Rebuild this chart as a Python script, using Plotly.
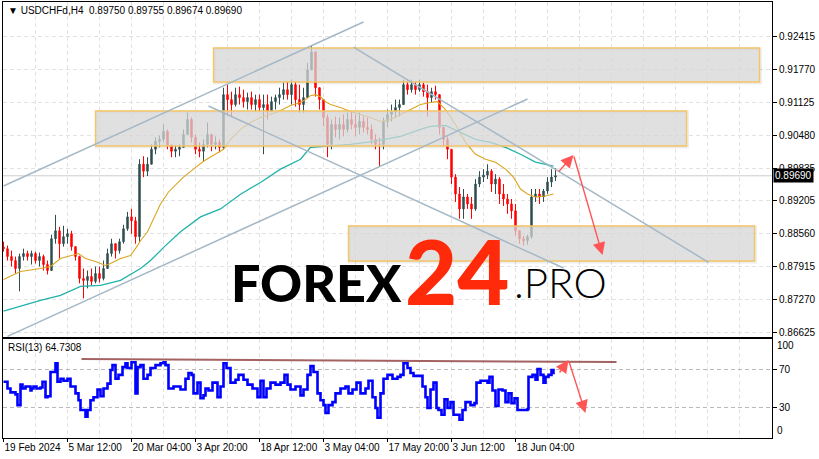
import plotly.graph_objects as go

# ---------------- data ----------------
title_text = "USDCHFd,H4  0.89750 0.89755 0.89674 0.89690"
last_price = 0.89690
rsi_label = "RSI(13) 64.7308"

date_ticks = [0, 64, 128, 192, 256, 320, 384, 448, 512]
date_labels = ["19 Feb 2024", "5 Mar 12:00", "20 Mar 04:00", "3 Apr 20:00",
               "18 Apr 12:00", "3 May 04:00", "17 May 20:00", "3 Jun 12:00",
               "18 Jun 04:00"]
grid_ticks = [32, 96, 160, 224, 288, 352, 416, 480, 544, 576, 608, 640, 672, 704, 736, 768]
price_ticks = [0.92415, 0.91770, 0.91125, 0.90480, 0.89835, 0.89205,
               0.88560, 0.87915, 0.87270, 0.86625]

first_open = 0.88300
high = [0.88405, 0.88328, 0.88231, 0.88115, 0.88173, 0.88269, 0.88231, 0.88231, 0.88211, 0.88192,
        0.88153, 0.88037, 0.88541, 0.88928, 0.88696, 0.88715, 0.88657, 0.88618, 0.88308, 0.88134,
        0.87882, 0.87843, 0.87882, 0.87921, 0.87921, 0.88037, 0.88269, 0.88463, 0.88366, 0.88463,
        0.88734, 0.88986, 0.89044, 0.88889, 0.90013, 0.90071, 0.90052, 0.90303, 0.90439, 0.90478,
        0.90691, 0.90594, 0.90303, 0.90284, 0.90303, 0.90594, 0.90923, 0.90826, 0.90497, 0.90342,
        0.90400, 0.90729, 0.90497, 0.90458, 0.90400, 0.91407, 0.91466, 0.91330, 0.91407, 0.91427,
        0.91369, 0.91311, 0.91330, 0.91272, 0.91272, 0.91272, 0.91272, 0.91233, 0.91272, 0.91407,
        0.91504, 0.91524, 0.91562, 0.91524, 0.91466, 0.91407, 0.91892, 0.92221, 0.92047, 0.91407,
        0.91175, 0.90884, 0.90788, 0.90846, 0.90826, 0.90884, 0.90923, 0.90943, 0.90884, 0.90923,
        0.90846, 0.90826, 0.90691, 0.90497, 0.90439, 0.90826, 0.90981, 0.91078, 0.91175, 0.91175,
        0.91562, 0.91562, 0.91562, 0.91524, 0.91562, 0.91504, 0.91466, 0.91407, 0.91446, 0.91175,
        0.90652, 0.90458, 0.90206, 0.89722, 0.89470, 0.89432, 0.89335, 0.89277, 0.89625, 0.89780,
        0.89819, 0.89916, 0.89819, 0.89722, 0.89664, 0.89529, 0.89335, 0.89238, 0.89141, 0.88541,
        0.88521, 0.88541, 0.89432, 0.89432, 0.89432, 0.89432, 0.89664, 0.89819, 0.89838]
low = [0.88211, 0.88037, 0.87921, 0.87785, 0.87437, 0.88037, 0.88037, 0.87960, 0.87979, 0.87921,
       0.87843, 0.87766, 0.87843, 0.88366, 0.88076, 0.88308, 0.88366, 0.88231, 0.88037, 0.87592,
       0.87301, 0.87495, 0.87553, 0.87592, 0.87611, 0.87650, 0.87882, 0.88115, 0.88076, 0.88173,
       0.88366, 0.88618, 0.88560, 0.88366, 0.88405, 0.89664, 0.89684, 0.89916, 0.90110, 0.90245,
       0.90342, 0.90206, 0.90052, 0.90052, 0.90071, 0.90245, 0.90497, 0.90342, 0.90110, 0.90052,
       0.89974, 0.90245, 0.90168, 0.90206, 0.90148, 0.90206, 0.90884, 0.90846, 0.91039, 0.91078,
       0.91020, 0.90981, 0.90981, 0.90943, 0.90943, 0.90110, 0.90788, 0.90943, 0.90981, 0.91078,
       0.91175, 0.91175, 0.91078, 0.91039, 0.90923, 0.90923, 0.91233, 0.91756, 0.91233, 0.90981,
       0.90652, 0.90052, 0.90206, 0.90439, 0.90400, 0.90458, 0.90536, 0.90594, 0.90458, 0.90497,
       0.90536, 0.90497, 0.90303, 0.90206, 0.89877, 0.90206, 0.90633, 0.90749, 0.90826, 0.90846,
       0.91078, 0.91272, 0.91311, 0.91272, 0.91330, 0.91233, 0.90846, 0.91117, 0.91175, 0.90497,
       0.90265, 0.90013, 0.89529, 0.89180, 0.88851, 0.88851, 0.89044, 0.88851, 0.89006, 0.89470,
       0.89567, 0.89625, 0.89374, 0.89335, 0.89141, 0.89102, 0.88947, 0.88851, 0.88521, 0.88366,
       0.88328, 0.88347, 0.88463, 0.89180, 0.89141, 0.89180, 0.89335, 0.89470, 0.89587]
close = [0.88269, 0.88115, 0.88037, 0.87882, 0.88115, 0.88173, 0.88115, 0.88173, 0.88037, 0.88115,
         0.87960, 0.87843, 0.88463, 0.88618, 0.88366, 0.88502, 0.88560, 0.88308, 0.88115, 0.87688,
         0.87650, 0.87727, 0.87630, 0.87785, 0.87688, 0.87882, 0.88173, 0.88366, 0.88231, 0.88405,
         0.88657, 0.88889, 0.88812, 0.88502, 0.89916, 0.89780, 0.89916, 0.90206, 0.90361, 0.90400,
         0.90555, 0.90284, 0.90168, 0.90206, 0.90245, 0.90497, 0.90788, 0.90439, 0.90206, 0.90168,
         0.90303, 0.90497, 0.90303, 0.90342, 0.90245, 0.91272, 0.91175, 0.91078, 0.91272, 0.91214,
         0.91136, 0.91214, 0.91078, 0.91175, 0.91020, 0.91078, 0.90943, 0.91136, 0.91214, 0.91272,
         0.91369, 0.91272, 0.91466, 0.91175, 0.91078, 0.91214, 0.91756, 0.92105, 0.91407, 0.91175,
         0.90826, 0.90303, 0.90691, 0.90594, 0.90691, 0.90594, 0.90788, 0.90691, 0.90633, 0.90749,
         0.90633, 0.90594, 0.90400, 0.90303, 0.90303, 0.90749, 0.90884, 0.90943, 0.91020, 0.91078,
         0.91466, 0.91369, 0.91466, 0.91369, 0.91466, 0.91330, 0.91214, 0.91330, 0.91272, 0.90633,
         0.90400, 0.90206, 0.89664, 0.89335, 0.89044, 0.89277, 0.89141, 0.89044, 0.89529, 0.89664,
         0.89703, 0.89780, 0.89529, 0.89625, 0.89335, 0.89238, 0.89141, 0.89006, 0.88618, 0.88463,
         0.88424, 0.88502, 0.89277, 0.89335, 0.89277, 0.89393, 0.89567, 0.89664, 0.89690]
bar_index = list(range(0, 4 * len(close), 4))
open_ = [first_open] + close[:-1]

ma_fast_bar = [0, 17, 37, 47, 57, 67, 75, 82, 92, 102, 107, 117, 127, 134, 137, 144, 152, 157,
               165, 172, 180, 190, 200, 210, 220, 227, 237, 247, 257, 267, 277, 287, 297, 302,
               307, 312, 317, 322, 327, 337, 347, 357, 367, 377, 387, 397, 407, 417, 427, 434,
               442, 452, 462, 472, 482, 492, 502, 510, 517, 524, 532, 542, 550]
ma_fast = [0.87669, 0.87824, 0.87882, 0.87921, 0.88076, 0.88134, 0.88173, 0.88076, 0.88018,
           0.87940, 0.87979, 0.88076, 0.88134, 0.88328, 0.88424, 0.88599, 0.88947, 0.89141,
           0.89374, 0.89509, 0.89664, 0.89820, 0.89974, 0.90090, 0.90206, 0.90400, 0.90594,
           0.90729, 0.90826, 0.90884, 0.90962, 0.91059, 0.91117, 0.91175, 0.91252, 0.91272,
           0.91233, 0.91136, 0.91078, 0.91020, 0.90943, 0.90884, 0.90826, 0.90749, 0.90788,
           0.90884, 0.90981, 0.91078, 0.91117, 0.91136, 0.90981, 0.90691, 0.90342, 0.90110,
           0.90013, 0.89955, 0.89820, 0.89664, 0.89432, 0.89335, 0.89277, 0.89296, 0.89335]

ma_slow_bar = [0, 17, 37, 57, 77, 97, 117, 137, 147, 162, 177, 197, 217, 237, 257, 277, 297,
               307, 324, 347, 370, 397, 417, 427, 442, 457, 472, 487, 502, 517, 532, 550]
ma_slow = [0.87049, 0.87146, 0.87262, 0.87359, 0.87533, 0.87553, 0.87650, 0.87882, 0.88037,
           0.88328, 0.88599, 0.88889, 0.89044, 0.89330, 0.89560, 0.89820, 0.90013, 0.90245,
           0.90265, 0.90303, 0.90361, 0.90458, 0.90594, 0.90652, 0.90671, 0.90536, 0.90400,
           0.90342, 0.90245, 0.90110, 0.89955, 0.89877]

rsi_bar = [0, 4, 7, 12, 14, 17, 19, 22, 27, 28, 30, 33, 37, 39, 42, 44, 47, 52, 54, 57, 60, 64,
           67, 72, 75, 77, 82, 84, 87, 90, 94, 97, 100, 104, 107, 109, 112, 115, 119, 122, 124,
           128, 132, 134, 137, 140, 144, 147, 152, 157, 160, 162, 165, 170, 177, 182, 185, 188,
           190, 194, 197, 200, 202, 205, 209, 214, 217, 220, 223, 227, 232, 235, 240, 244, 249,
           254, 257, 260, 263, 267, 272, 277, 281, 284, 287, 292, 297, 300, 304, 307, 310, 314,
           317, 320, 322, 325, 329, 332, 337, 342, 345, 349, 353, 357, 362, 365, 369, 372, 374,
           377, 380, 384, 389, 394, 397, 400, 404, 407, 410, 415, 419, 422, 424, 427, 430, 433,
           435, 438, 441, 444, 447, 450, 454, 456, 459, 462, 467, 471, 473, 477, 484, 486, 489,
           492, 495, 499, 502, 505, 508, 511, 514, 519, 524, 525, 529, 532, 534, 537, 540, 542,
           545, 548, 550]
rsi_vals = [57, 50, 46, 44, 33, 54, 50, 52, 48, 50, 52, 50, 51, 57, 41, 42, 67, 76, 57, 60, 58,
            60, 52, 45, 38, 28, 21, 28, 38, 41, 49, 42, 50, 55, 69, 74, 60, 64, 72, 76, 71, 77,
            45, 72, 74, 60, 64, 71, 74, 76, 77, 74, 50, 52, 49, 60, 66, 64, 45, 56, 40, 43, 50,
            48, 56, 41, 52, 76, 71, 56, 59, 64, 59, 54, 50, 41, 58, 41, 50, 56, 54, 56, 64, 54,
            49, 52, 43, 49, 64, 73, 67, 45, 38, 33, 25, 33, 36, 45, 50, 52, 45, 49, 56, 45, 50,
            58, 41, 30, 20, 45, 60, 64, 60, 62, 64, 76, 71, 66, 63, 63, 52, 41, 30, 49, 56, 30,
            28, 23, 39, 30, 36, 23, 23, 18, 28, 36, 33, 35, 56, 58, 56, 62, 48, 32, 49, 48, 36,
            45, 35, 40, 28, 28, 29, 62, 64, 59, 70, 64, 56, 62, 64, 69, 64.73]

# ---------------- styling ----------------
FONT = "Liberation Sans, Arial, sans-serif"
GRID = "rgb(226,226,226)"
LINE_BLUE = "rgb(165,184,198)"
ZONE_FILL = "rgba(214,214,214,0.75)"
ZONE_LINE = "rgb(245,196,100)"
ARROW = "rgb(255,85,85)"

fig = go.Figure()

fig.add_trace(go.Candlestick(
    x=bar_index, open=open_, high=high, low=low, close=close,
    increasing=dict(line=dict(color="#2F4F4F", width=1), fillcolor="#2F4F4F"),
    decreasing=dict(line=dict(color="#FF0000", width=1), fillcolor="#FF0000"),
    whiskerwidth=0, xaxis="x", yaxis="y", showlegend=False, hoverinfo="skip"))

fig.add_trace(go.Scatter(x=ma_fast_bar, y=ma_fast, mode="lines",
                         line=dict(color="rgb(218,165,32)", width=1.1),
                         xaxis="x", yaxis="y", showlegend=False, hoverinfo="skip"))
fig.add_trace(go.Scatter(x=ma_slow_bar, y=ma_slow, mode="lines",
                         line=dict(color="rgb(32,178,170)", width=1.3),
                         xaxis="x", yaxis="y", showlegend=False, hoverinfo="skip"))

fig.add_trace(go.Scatter(x=rsi_bar, y=rsi_vals, mode="lines", line_shape="hv",
                         line=dict(color="rgb(0,0,255)", width=2.6),
                         xaxis="x2", yaxis="y2", showlegend=False, hoverinfo="skip"))

shapes = []
# supply / demand zones
for x0, x1, y0, y1 in [(210, 756, 0.91518, 0.92181),
                       (92, 683, 0.90270, 0.90953),
                       (345, 751, 0.88028, 0.88710)]:
    shapes.append(dict(type="rect", xref="x", yref="y", x0=x0 + 1, x1=x1 + 1,
                       y0=y0 - 0.0002, y1=y1 - 0.0002, layer="above",
                       line=dict(color="rgba(0,0,0,0.07)", width=3),
                       fillcolor="rgba(0,0,0,0)"))
    shapes.append(dict(type="rect", xref="x", yref="y", x0=x0, x1=x1, y0=y0, y1=y1,
                       layer="above", fillcolor=ZONE_FILL,
                       line=dict(color=ZONE_LINE, width=1.4)))
# channel / trend lines
for x0, y0, x1, y1 in [(0, 0.89490, 360, 0.92688),
                       (4, 0.86560, 524, 0.91186),
                       (350, 0.92200, 705, 0.88002),
                       (205, 0.91050, 560, 0.87891)]:
    shapes.append(dict(type="line", xref="x", yref="y", x0=x0, y0=y0, x1=x1, y1=y1,
                       layer="above", line=dict(color=LINE_BLUE, width=1.5)))
# bid line
shapes.append(dict(type="line", xref="paper", yref="y", x0=0, x1=1, y0=last_price,
                   y1=last_price, layer="below", line=dict(color="rgb(205,205,205)", width=1)))
# RSI resistance line
shapes.append(dict(type="line", xref="x2", yref="y2", x0=78, y0=80.3, x1=613, y1=77.2,
                   layer="above", line=dict(color="rgba(135,45,45,0.75)", width=2)))

annotations = []
annotations.append(dict(xref="paper", yref="paper", x=0.004, y=1, yshift=-1,
                        xanchor="left", yanchor="top", showarrow=False,
                        text='<span style="font-size:10px">▼</span> ' + title_text,
                        font=dict(family=FONT, size=10, color="black")))
annotations.append(dict(xref="paper", yref="paper", x=0.004, y=0.2087,
                        xanchor="left", yanchor="middle", showarrow=False,
                        text=rsi_label, font=dict(family=FONT, size=10, color="black")))
annotations.append(dict(xref="paper", yref="y", x=1, y=last_price, xanchor="left",
                        yanchor="middle", showarrow=False, xshift=1,
                        text="0.89690", bgcolor="black", borderpad=1,
                        font=dict(family=FONT, size=10, color="white")))
for v, t in [(94.6, "100"), (6.4, "0")]:
    annotations.append(dict(xref="paper", yref="y2", x=1, y=v, xanchor="left",
                            yanchor="middle", showarrow=False, xshift=3, text=t,
                            font=dict(family=FONT, size=10, color="black")))
# watermark
annotations.append(dict(xref="x", yref="y", x=225, y=0.87628, xanchor="left",
                        yanchor="middle", showarrow=False, text="FOREX",
                        font=dict(family="Lato", size=52, color="black", weight=900)))
annotations.append(dict(xref="x", yref="y", x=399, y=0.87852, xanchor="left",
                        yanchor="middle", showarrow=False, text="24",
                        font=dict(family="Lato", size=90, color="rgb(255,42,10)", weight=900)))
annotations.append(dict(xref="x", yref="y", x=508, y=0.87628, xanchor="left",
                        yanchor="middle", showarrow=False, text=".PRO",
                        font=dict(family="Lato", size=42, color="black", weight=300)))
# arrows
for xr, yr, x, y, ax, ay in [("x", "y", 570, 0.90095, 554, 0.89744),
                             ("x", "y", 599, 0.88145, 570, 0.90095),
                             ("x2", "y2", 565, 79.2, 555, 64.9),
                             ("x2", "y2", 582, 24.9, 565, 79.2)]:
    annotations.append(dict(xref=xr, yref=yr, axref=xr, ayref=yr, x=x, y=y, ax=ax, ay=ay,
                            text="", showarrow=True, arrowhead=2, arrowsize=1.8,
                            arrowwidth=1.4, arrowcolor=ARROW))

axis_common = dict(showline=True, linecolor="black", linewidth=1, mirror=True,
                   zeroline=False, automargin=False)
minor_grid = dict(tickvals=grid_ticks, showgrid=True, gridcolor=GRID,
                  griddash="4px,3px", ticks="")

fig.update_layout(
    width=819, height=459,
    margin=dict(l=3, r=47, t=2, b=21, autoexpand=False),
    paper_bgcolor="white", plot_bgcolor="white",
    font=dict(family=FONT, size=10, color="black"),
    showlegend=False, boxgap=0.5,
    shapes=shapes, annotations=annotations,
    xaxis=dict(domain=[0, 1], anchor="y", range=[-0.5, 768.5],
               tickvals=date_ticks, showticklabels=False, ticks="",
               showgrid=True, gridcolor=GRID, griddash="4px,3px", gridwidth=1,
               minor=minor_grid, rangeslider=dict(visible=False), **axis_common),
    xaxis2=dict(domain=[0, 1], anchor="y2", matches="x", range=[-0.5, 768.5],
                tickvals=date_ticks, ticktext=date_labels, ticks="outside", ticklen=3,
                tickcolor="black", ticklabelposition="outside right", tickangle=0,
                tickfont=dict(family=FONT, size=10),
                showgrid=True, gridcolor=GRID, griddash="4px,3px", gridwidth=1,
                minor=minor_grid, **axis_common),
    yaxis=dict(domain=[0.2317, 1], anchor="x", side="right",
               range=[0.86547, 0.93078], tickvals=price_ticks,
               ticktext=[f"{v:.5f}" for v in price_ticks], ticks="outside", ticklen=4,
               tickcolor="black", tickfont=dict(family=FONT, size=10),
               showgrid=True, gridcolor=GRID, griddash="4px,3px", **axis_common),
    yaxis2=dict(domain=[0, 0.227], anchor="x2", side="right", range=[-0.8, 100.8],
                tickvals=[30, 70], ticktext=["30", "70"], ticks="outside", ticklen=4,
                tickcolor="black", tickfont=dict(family=FONT, size=10),
                showgrid=True, gridcolor="rgb(185,185,185)", griddash="4px,3px",
                **axis_common),
)

fig.write_html("out.html", config={"displayModeBar": False},
               post_script="document.body.style.margin='0';"
                           "document.body.style.overflow='hidden';")
